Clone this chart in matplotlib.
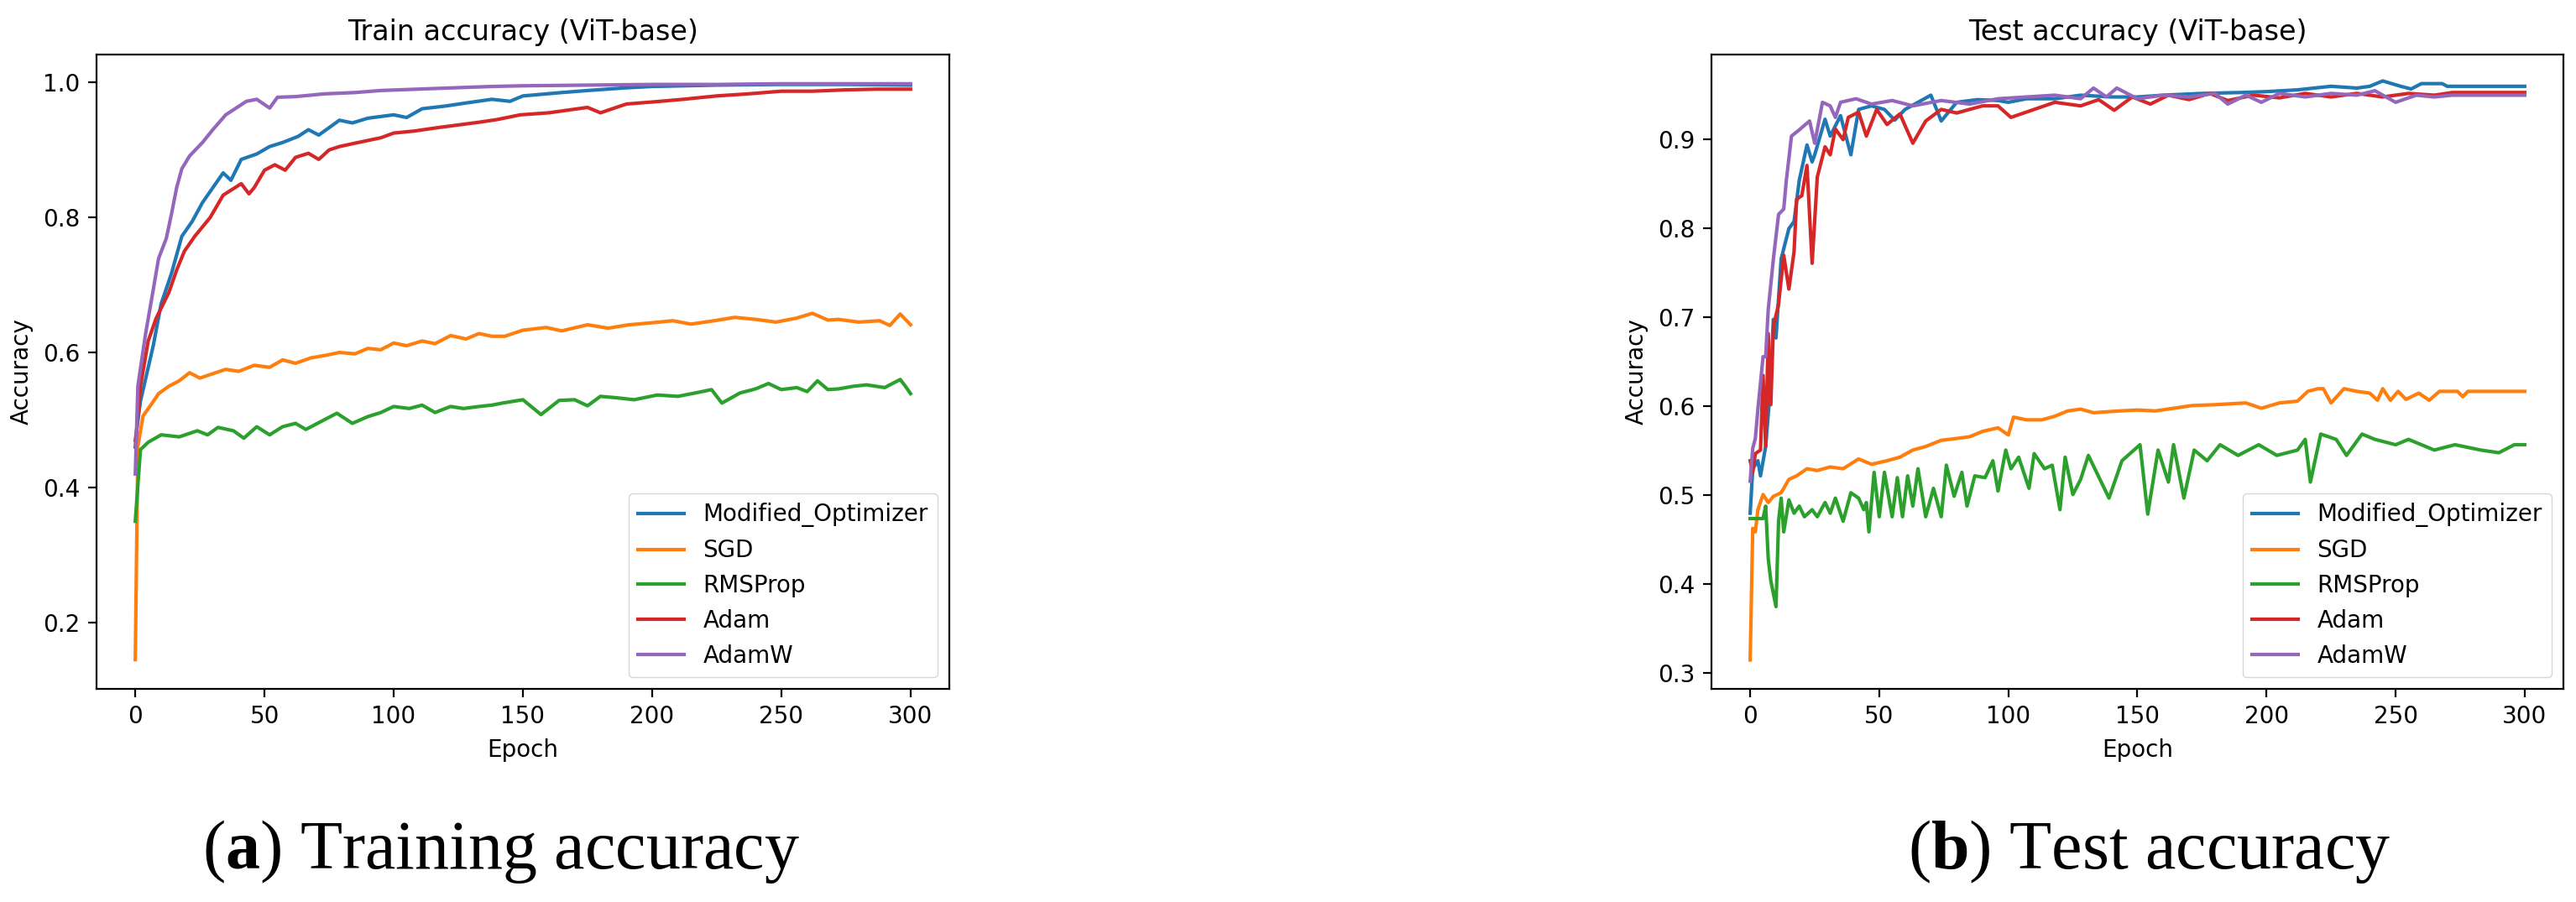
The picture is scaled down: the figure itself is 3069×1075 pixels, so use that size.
import matplotlib.pyplot as plt

# 曲线数据
names = ["Modified_Optimizer", "SGD", "RMSProp", "Adam", "AdamW"]

# ---- 训练集 ----
tr_mod_x = [0, 2, 4, 7, 10, 14, 18, 22, 26, 30, 34, 37, 41, 47, 52, 57, 63, 67, 71, 79, 84, 90, 100, 105, 111, 120, 127, 138, 145, 150, 165, 175, 190, 200, 225, 250, 275, 300]
tr_mod_y = [0.47, 0.528, 0.561, 0.611, 0.672, 0.717, 0.772, 0.794, 0.822, 0.844, 0.866, 0.855, 0.886, 0.894, 0.905, 0.911, 0.92, 0.93, 0.922, 0.944, 0.94, 0.947, 0.952, 0.948, 0.961, 0.965, 0.969, 0.975, 0.972, 0.98, 0.985, 0.988, 0.992, 0.994, 0.996, 0.997, 0.997, 0.996]

tr_sgd_x = [0, 1, 3, 6, 9, 13, 17, 21, 25, 28, 35, 40, 46, 52, 57, 62, 68, 74, 79, 85, 90, 95, 100, 105, 111, 116, 122, 128, 133, 138, 143, 150, 159, 165, 175, 183, 191, 200, 208, 215, 224, 232, 240, 248, 256, 262, 268, 272, 280, 288, 292, 296, 300]
tr_sgd_y = [0.145, 0.461, 0.506, 0.522, 0.539, 0.55, 0.558, 0.57, 0.562, 0.566, 0.575, 0.572, 0.581, 0.578, 0.589, 0.584, 0.592, 0.596, 0.6, 0.598, 0.606, 0.604, 0.614, 0.61, 0.617, 0.613, 0.625, 0.62, 0.628, 0.624, 0.624, 0.633, 0.637, 0.632, 0.641, 0.636, 0.641, 0.644, 0.647, 0.642, 0.647, 0.652, 0.649, 0.645, 0.651, 0.658, 0.648, 0.649, 0.645, 0.647, 0.64, 0.657, 0.641]

tr_rms_x = [0, 2, 5, 10, 17, 24, 28, 32, 38, 42, 47, 52, 57, 62, 66, 73, 78, 84, 90, 95, 100, 106, 111, 116, 122, 127, 133, 138, 142, 150, 157, 164, 170, 175, 180, 186, 193, 202, 210, 218, 223, 227, 234, 240, 245, 250, 256, 260, 264, 268, 272, 278, 283, 290, 296, 298, 300]
tr_rms_y = [0.35, 0.456, 0.467, 0.478, 0.475, 0.484, 0.478, 0.489, 0.484, 0.473, 0.49, 0.478, 0.49, 0.495, 0.486, 0.5, 0.51, 0.495, 0.505, 0.511, 0.52, 0.517, 0.522, 0.511, 0.52, 0.517, 0.52, 0.522, 0.525, 0.53, 0.508, 0.529, 0.53, 0.521, 0.535, 0.533, 0.53, 0.537, 0.535, 0.541, 0.545, 0.525, 0.54, 0.546, 0.554, 0.545, 0.548, 0.542, 0.558, 0.545, 0.546, 0.55, 0.552, 0.548, 0.56, 0.55, 0.539]

tr_adam_x = [0, 2, 5, 8, 13, 16, 19, 23, 29, 34, 41, 44, 46, 50, 54, 58, 62, 67, 71, 75, 79, 85, 90, 95, 100, 108, 117, 125, 133, 140, 149, 160, 175, 180, 190, 200, 212, 225, 237, 250, 262, 275, 287, 300]
tr_adam_y = [0.46, 0.55, 0.617, 0.65, 0.689, 0.722, 0.75, 0.772, 0.8, 0.833, 0.85, 0.835, 0.844, 0.87, 0.878, 0.87, 0.889, 0.895, 0.886, 0.9, 0.905, 0.91, 0.914, 0.918, 0.925, 0.928, 0.933, 0.937, 0.941, 0.945, 0.952, 0.955, 0.963, 0.955, 0.968, 0.971, 0.975, 0.98, 0.983, 0.987, 0.987, 0.989, 0.99, 0.99]

tr_adamw_x = [0, 1, 4, 7, 9, 12, 14, 16, 18, 21, 26, 30, 35, 43, 47, 52, 55, 62, 73, 85, 95, 116, 138, 150, 175, 200, 225, 250, 275, 300]
tr_adamw_y = [0.42, 0.55, 0.628, 0.694, 0.739, 0.769, 0.805, 0.844, 0.872, 0.891, 0.911, 0.93, 0.952, 0.972, 0.975, 0.962, 0.978, 0.979, 0.983, 0.985, 0.988, 0.991, 0.994, 0.995, 0.996, 0.997, 0.997, 0.998, 0.998, 0.998]

# ---- 测试集 ----
te_mod_x = [0, 1, 3, 4, 6, 8, 9, 10, 12, 15, 17, 19, 22, 24, 25, 29, 31, 35, 39, 42, 47, 52, 56, 60, 70, 74, 80, 88, 96, 100, 107, 118, 128, 140, 150, 160, 175, 190, 200, 212, 225, 235, 240, 245, 252, 256, 260, 268, 270, 300]
te_mod_y = [0.48, 0.53, 0.539, 0.522, 0.555, 0.627, 0.698, 0.677, 0.766, 0.8, 0.808, 0.854, 0.894, 0.875, 0.883, 0.923, 0.904, 0.927, 0.883, 0.934, 0.938, 0.934, 0.922, 0.934, 0.95, 0.921, 0.942, 0.945, 0.944, 0.942, 0.946, 0.946, 0.95, 0.948, 0.948, 0.95, 0.952, 0.953, 0.954, 0.956, 0.96, 0.958, 0.96, 0.966, 0.96, 0.957, 0.963, 0.963, 0.96, 0.96]

te_sgd_x = [0, 1, 2, 3, 5, 7, 9, 12, 15, 18, 22, 26, 31, 36, 42, 47, 53, 58, 63, 68, 74, 80, 85, 90, 96, 100, 102, 107, 113, 118, 123, 128, 133, 143, 150, 157, 164, 171, 180, 192, 198, 205, 212, 216, 220, 222, 225, 230, 235, 240, 243, 245, 248, 251, 254, 259, 263, 267, 274, 276, 278, 300]
te_sgd_y = [0.315, 0.463, 0.459, 0.484, 0.501, 0.492, 0.499, 0.503, 0.518, 0.522, 0.53, 0.528, 0.532, 0.53, 0.541, 0.535, 0.539, 0.543, 0.551, 0.555, 0.562, 0.564, 0.566, 0.572, 0.576, 0.568, 0.588, 0.585, 0.585, 0.589, 0.595, 0.597, 0.593, 0.595, 0.596, 0.595, 0.598, 0.601, 0.602, 0.604, 0.598, 0.604, 0.606, 0.617, 0.62, 0.62, 0.604, 0.62, 0.617, 0.615, 0.607, 0.62, 0.607, 0.617, 0.608, 0.615, 0.607, 0.617, 0.617, 0.611, 0.617, 0.617]

te_rms_x = [0, 5, 6, 7, 8, 10, 11, 12, 13, 15, 17, 19, 21, 24, 26, 29, 31, 33, 36, 39, 42, 44, 45, 46, 48, 50, 52, 55, 57, 59, 61, 63, 65, 68, 71, 74, 76, 79, 82, 84, 87, 91, 94, 96, 99, 101, 104, 108, 110, 114, 117, 120, 122, 125, 128, 131, 134, 139, 144, 151, 154, 158, 162, 164, 168, 172, 177, 182, 189, 197, 204, 212, 215, 217, 221, 227, 231, 237, 242, 250, 255, 265, 273, 278, 283, 290, 296, 300]
te_rms_y = [0.474, 0.474, 0.488, 0.429, 0.404, 0.375, 0.471, 0.497, 0.459, 0.495, 0.48, 0.488, 0.476, 0.484, 0.476, 0.492, 0.48, 0.497, 0.471, 0.503, 0.497, 0.484, 0.492, 0.459, 0.526, 0.476, 0.526, 0.476, 0.52, 0.476, 0.522, 0.488, 0.53, 0.476, 0.508, 0.476, 0.534, 0.499, 0.526, 0.488, 0.522, 0.52, 0.539, 0.505, 0.551, 0.53, 0.543, 0.508, 0.547, 0.53, 0.534, 0.484, 0.543, 0.501, 0.518, 0.545, 0.527, 0.497, 0.539, 0.557, 0.479, 0.551, 0.515, 0.557, 0.497, 0.551, 0.539, 0.557, 0.545, 0.557, 0.545, 0.551, 0.563, 0.515, 0.569, 0.563, 0.545, 0.569, 0.563, 0.557, 0.563, 0.551, 0.557, 0.554, 0.551, 0.548, 0.557, 0.557]

te_adam_x = [0, 1, 2, 4, 5, 6, 7, 8, 9, 11, 13, 15, 17, 18, 20, 22, 24, 26, 29, 31, 33, 36, 38, 42, 45, 49, 53, 58, 63, 68, 74, 80, 85, 90, 96, 101, 107, 118, 128, 135, 141, 148, 155, 162, 170, 178, 185, 195, 205, 215, 225, 235, 245, 255, 265, 272, 300]
te_adam_y = [0.539, 0.526, 0.547, 0.551, 0.635, 0.555, 0.682, 0.602, 0.69, 0.715, 0.77, 0.732, 0.774, 0.833, 0.837, 0.871, 0.761, 0.858, 0.892, 0.883, 0.912, 0.9, 0.925, 0.931, 0.904, 0.934, 0.917, 0.929, 0.896, 0.921, 0.934, 0.93, 0.934, 0.938, 0.938, 0.925, 0.931, 0.942, 0.938, 0.945, 0.933, 0.948, 0.94, 0.95, 0.945, 0.952, 0.944, 0.95, 0.947, 0.952, 0.948, 0.952, 0.948, 0.952, 0.95, 0.953, 0.953]

te_adamw_x = [0, 1, 2, 3, 5, 6, 7, 9, 11, 13, 14, 16, 19, 23, 25, 28, 31, 33, 35, 41, 47, 55, 63, 74, 85, 96, 107, 118, 128, 133, 138, 142, 150, 160, 170, 180, 185, 192, 198, 205, 215, 225, 235, 242, 250, 258, 265, 272, 300]
te_adamw_y = [0.516, 0.553, 0.564, 0.597, 0.656, 0.656, 0.709, 0.766, 0.816, 0.822, 0.854, 0.904, 0.911, 0.921, 0.896, 0.942, 0.938, 0.925, 0.942, 0.946, 0.94, 0.944, 0.938, 0.944, 0.94, 0.946, 0.948, 0.95, 0.946, 0.958, 0.948, 0.958, 0.946, 0.95, 0.948, 0.952, 0.94, 0.95, 0.942, 0.952, 0.948, 0.952, 0.95, 0.955, 0.942, 0.95, 0.948, 0.95, 0.95]

train_series = [(tr_mod_x, tr_mod_y), (tr_sgd_x, tr_sgd_y), (tr_rms_x, tr_rms_y),
                (tr_adam_x, tr_adam_y), (tr_adamw_x, tr_adamw_y)]
test_series = [(te_mod_x, te_mod_y), (te_sgd_x, te_sgd_y), (te_rms_x, te_rms_y),
               (te_adam_x, te_adam_y), (te_adamw_x, te_adamw_y)]

plt.rcParams['mathtext.fontset'] = 'custom'
plt.rcParams['mathtext.rm'] = 'Liberation Serif'
plt.rcParams['mathtext.bf'] = 'Liberation Serif:bold'

fig = plt.figure(figsize=(30.69, 10.75), dpi=100)
ax1 = fig.add_axes([0.03747, 0.23628, 0.33105, 0.70326])
ax2 = fig.add_axes([0.66438, 0.23628, 0.33073, 0.70326])

def draw(ax, series, title, ylim, yticks):
    for (x, y), n in zip(series, names):
        ax.plot(x, y, lw=3, label=n)
    ax.set_xlim(-15, 315)
    ax.set_ylim(*ylim)
    ax.set_xticks([0, 50, 100, 150, 200, 250, 300])
    ax.set_yticks(yticks)
    ax.set_title(title, fontsize=24, pad=12)
    ax.set_xlabel("Epoch", fontsize=20, labelpad=8)
    ax.set_ylabel("Accuracy", fontsize=20, labelpad=8)
    ax.tick_params(labelsize=20, length=7, width=1.6, pad=7)
    for s in ax.spines.values():
        s.set_linewidth(1.6)
    ax.legend(loc="lower right", fontsize=20)

draw(ax1, train_series, "Train accuracy (ViT-base)", (0.1017, 1.0413), [0.2, 0.4, 0.6, 0.8, 1.0])
draw(ax2, test_series, "Test accuracy (ViT-base)", (0.2825, 0.9957), [0.3, 0.4, 0.5, 0.6, 0.7, 0.8, 0.9])

# 子图标题
fig.text(0.1945, 0.037, r"($\mathbf{a}$) Training accuracy", family="Liberation Serif",
         fontsize=59, ha="center", va="baseline")
fig.text(0.8345, 0.037, r"($\mathbf{b}$) Test accuracy", family="Liberation Serif",
         fontsize=59, ha="center", va="baseline")

fig.savefig("out.png", dpi=100)
